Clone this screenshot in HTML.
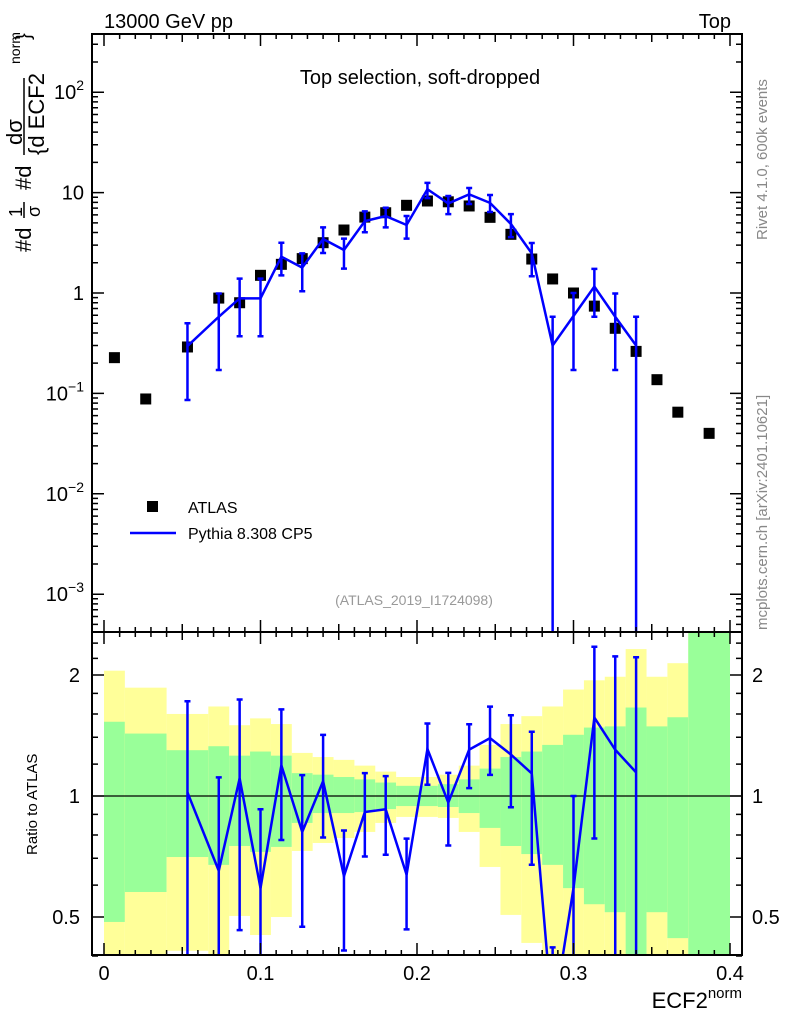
<!DOCTYPE html>
<html><head><meta charset="utf-8">
<style>
html,body{margin:0;padding:0;background:#fff;width:786px;height:1024px;overflow:hidden;position:relative;}
svg{display:block;position:absolute;left:0;top:0;font-family:"Liberation Sans",sans-serif;}
</style>
<script>
const binEdges=[0,0.013333,0.04,0.066667,0.08,0.093333,0.106667,0.12,0.133333,0.146667,0.16,0.173333,0.186667,0.2,0.213333,0.226667,0.24,0.253333,0.266667,0.28,0.293333,0.306667,0.32,0.333333,0.346667,0.36,0.373333,0.4];
const atlasVals=[0.227,0.088,0.29,0.89,0.80,1.5,1.93,2.2,3.17,4.24,5.7,6.3,7.47,8.25,8.1,7.36,5.67,3.84,2.18,1.38,1.0,0.74,0.445,0.262,0.137,0.065,0.040];
const mcFirst=2;
const mcVals=[0.296,0.58,0.885,0.885,2.3,1.79,3.45,2.68,5.2,5.84,4.76,10.8,7.8,9.6,7.9,4.87,2.48,0.30,0.59,1.16,0.58,0.30];
const mcUp=[0.499,0.99,1.39,1.39,3.17,2.48,4.5,3.48,6.5,7.06,5.85,12.5,9.25,11.1,9.46,6.1,3.15,0.58,1.0,1.74,0.99,0.58];
const mcDn=[0.086,0.171,0.371,0.371,1.5,1.04,2.5,1.75,4.03,4.5,3.48,8.8,6.1,7.7,6.4,3.6,1.47,0.00001,0.171,0.58,0.171,0.00001];
const yellowTop=[2.05,1.86,1.60,1.67,1.50,1.56,1.51,1.28,1.25,1.23,1.19,1.15,1.115,1.115,1.13,1.19,1.34,1.51,1.58,1.67,1.84,1.94,1.98,2.32,1.98,2.14,3];
const greenTop=[1.53,1.43,1.30,1.33,1.26,1.29,1.26,1.14,1.13,1.115,1.10,1.08,1.06,1.06,1.07,1.10,1.17,1.25,1.29,1.34,1.42,1.48,1.49,1.66,1.49,1.57,3];
const greenBot=[0.486,0.577,0.705,0.674,0.751,0.726,0.747,0.857,0.907,0.907,0.912,0.928,0.944,0.944,0.939,0.907,0.833,0.751,0.717,0.674,0.590,0.538,0.514,0.3,0.514,0.443,0.3];
const yellowBot=[0.3,0.3,0.412,0.3,0.503,0.451,0.50,0.73,0.764,0.786,0.814,0.857,0.887,0.887,0.882,0.814,0.666,0.506,0.431,0.3,0.3,0.3,0.3,0.3,0.3,0.3,0.3];
const xTicks=[0,0.1,0.2,0.3,0.4];
const xTickLabels=["0","0.1","0.2","0.3","0.4"];
const yMainTicks=[-3,-2,-1,0,1,2];
const yMainLabels=[["10","−3"],["10","−2"],["10","−1"],["1",""],["10",""],["10","2"]];
const ratioTicks=[0.5,1,2];
const ratioLabels=["0.5","1","2"];

const NS="http://www.w3.org/2000/svg";
const clamp=(v,a,b)=>Math.max(a,Math.min(b,v));
const X=v=>104+v*1565;
const Y=v=>clamp(293-100.4*Math.log10(v),30,636);
const R=v=>clamp(796-121*Math.log2(v),628,960);
const RL=v=>clamp(796-121*Math.log2(v),600,1020);
function mk(tag,attrs,parent){const e=document.createElementNS(NS,tag);for(const k in attrs)e.setAttribute(k,attrs[k]);parent.appendChild(e);return e;}
const cen=i=>(binEdges[i]+binEdges[i+1])/2;

document.addEventListener('DOMContentLoaded',function(){
const bands=document.getElementById('ratioBands');
const mm=document.getElementById('mainMarks');
const rm=document.getElementById('ratioMarks');
const ax=document.getElementById('axes');

for(let i=0;i<atlasVals.length;i++){
  const x0=X(binEdges[i]),w=X(binEdges[i+1])-x0;
  const y1=mk('rect',{x:x0,y:R(yellowTop[i]),width:w,height:R(yellowBot[i])-R(yellowTop[i]),fill:'#ffff99'},bands);
  
  
  const g1=mk('rect',{x:x0,y:R(greenTop[i]),width:w,height:R(greenBot[i])-R(greenTop[i]),fill:'#99ff99'},bands);
  
  
}
const ref=mk('line',{x1:92,x2:742,y1:R(1),y2:R(1),stroke:'#000','stroke-width':1.3},rm);



for(let i=0;i<atlasVals.length;i++){
  const s=mk('rect',{x:X(cen(i))-5.5,y:Y(atlasVals[i])-5.5,width:11,height:11,fill:'#000'},mm);
  
  
}
let pts=[],rpts=[];
for(let j=0;j<mcVals.length;j++){
  const i=j+mcFirst,x=X(cen(i));
  pts.push(x+','+Y(mcVals[j]));
  const r=mcVals[j]/atlasVals[i];
  rpts.push(x+','+RL(r));
  const groups=[[mm,Y(mcUp[j]),Y(mcDn[j]),'pythia-error-bar'],[rm,R(mcUp[j]/atlasVals[i]),R(mcDn[j]/atlasVals[i]),'pythia-ratio-error-bar']];
  groups.forEach(function(g){
    const p=g[0],a=g[1],b=g[2],n=g[3];
    const e=mk('path',{d:'M'+x+','+a+'V'+b+'M'+(x-3)+','+a+'H'+(x+3)+'M'+(x-3)+','+b+'H'+(x+3),stroke:'#0000ff','stroke-width':2.5,fill:'none'},p);
    
    
  });
}
const l1=mk('polyline',{points:pts.join(' '),fill:'none',stroke:'#0000ff','stroke-width':2.5},mm);


const l2=mk('polyline',{points:rpts.join(' '),fill:'none',stroke:'#0000ff','stroke-width':2.5},rm);



[[34,632],[632,955]].forEach(function(tb,k){
  const t=tb[0],b=tb[1];
  const f=mk('rect',{x:92,y:t,width:650,height:b-t,fill:'none',stroke:'#000','stroke-width':2},ax);
  
  
  let d='';
  for(let m=0;m<=40;m++){const v=m/100,x=X(v),L=(m%10==0)?12:(m%5==0?8:5);d+='M'+x+','+b+'v'+(-L)+'M'+x+','+t+'v'+L;}
  const tk=mk('path',{d:d,stroke:'#000','stroke-width':1.5},ax);
  
  
});
let d='';
for(let e=-4;e<=2;e++)for(let m=1;m<=9;m++){const v=m*Math.pow(10,e),y=293-100.4*Math.log10(v);if(y<35||y>631)continue;const L=m==1?12:6;d+='M92,'+y+'h'+L+'M742,'+y+'h'+(-L);}
const yt=mk('path',{d:d,stroke:'#000','stroke-width':1.5},ax);


d='';
[0.4,0.5,0.6,0.7,0.8,0.9,1,1.2,1.4,1.6,1.8,2,2.2,2.4].forEach(function(v){const y=R(v);const L=(v==0.5||v==1||v==2)?12:6;d+='M92,'+y+'h'+L+'M742,'+y+'h'+(-L);});
const rt=mk('path',{d:d,stroke:'#000','stroke-width':1.5},ax);



xTicks.forEach(function(v,i){
  const t=mk('text',{x:X(v),y:980,'font-size':20,'text-anchor':'middle'},ax);t.textContent=xTickLabels[i];
  
  
});
yMainTicks.forEach(function(e,i){
  const t=mk('text',{x:84,y:Y(Math.pow(10,e))+7,'font-size':20,'text-anchor':'end'},ax);
  
  
  t.appendChild(document.createTextNode(yMainLabels[i][0]));
  if(yMainLabels[i][1]){const s=document.createElementNS(NS,'tspan');s.setAttribute('font-size',14);s.setAttribute('dy',-9);s.textContent=yMainLabels[i][1];t.appendChild(s);}
});
ratioTicks.forEach(function(v,i){
  [[80,'end'],[752,'start']].forEach(function(xa){
    const t=mk('text',{x:xa[0],y:R(v)+7,'font-size':20,'text-anchor':xa[1]},ax);t.textContent=ratioLabels[i];
    
    
  });
});
});
</script>
</head>
<body>
<svg id="chart" width="786" height="1024" viewBox="0 0 786 1024" xmlns="http://www.w3.org/2000/svg">
<defs>
<clipPath id="clipMain"><rect x="92" y="34" width="650" height="598"/></clipPath>
<clipPath id="clipRatio"><rect x="92" y="632" width="650" height="323"/></clipPath>
</defs>
<g id="ratioBands" clip-path="url(#clipRatio)"></g>
<g id="mainMarks" clip-path="url(#clipMain)"></g>
<g id="ratioMarks" clip-path="url(#clipRatio)"></g>
<g id="axes"></g>
<text x="104" y="28" font-size="20">13000 GeV pp</text>
<text x="731" y="28" font-size="20" text-anchor="end">Top</text>
<text x="420" y="84" font-size="20" text-anchor="middle">Top selection, soft-dropped</text>
<text x="414" y="605" font-size="14" fill="#999" text-anchor="middle">(ATLAS_2019_I1724098)</text>
<text transform="translate(767,240) rotate(-90)" font-size="15" fill="#888">Rivet 4.1.0,  600k events</text>
<text transform="translate(767,630) rotate(-90)" font-size="15" fill="#888">mcplots.cern.ch [arXiv:2401.10621]</text>
<g>
<rect x="147" y="501" width="11" height="11" fill="#000"/>
<text x="188" y="513" font-size="16">ATLAS</text>
<line x1="130" y1="533" x2="176" y2="533" stroke="#0000ff" stroke-width="2.5"/>
<text x="188" y="539" font-size="16">Pythia 8.308 CP5</text>
</g>
<g font-size="22">
<text transform="translate(31,252) rotate(-90)">#d</text>
<text transform="translate(22,217) rotate(-90)" font-size="18">1</text>
<line x1="24" y1="202" x2="24" y2="218" stroke="#000" stroke-width="1.5"/>
<text transform="translate(40,217) rotate(-90)" font-size="18">σ</text>
<text transform="translate(31,190) rotate(-90)">#d</text>
<text transform="translate(22,145) rotate(-90)" font-size="22">dσ</text>
<line x1="24" y1="78" x2="24" y2="155" stroke="#000" stroke-width="1.5"/>
<text transform="translate(44,155) rotate(-90)" font-size="22">{d ECF2</text>
<text transform="translate(20,64) rotate(-90)" font-size="14">norm</text>
<text transform="translate(30,40) rotate(-90)" font-size="20">}</text>
</g>
<text transform="translate(37,855) rotate(-90)" font-size="15">Ratio to ATLAS</text>
<text x="742" y="1008" font-size="22" text-anchor="end">ECF2<tspan font-size="15" dy="-10">norm</tspan></text>
</svg>
</body></html>
